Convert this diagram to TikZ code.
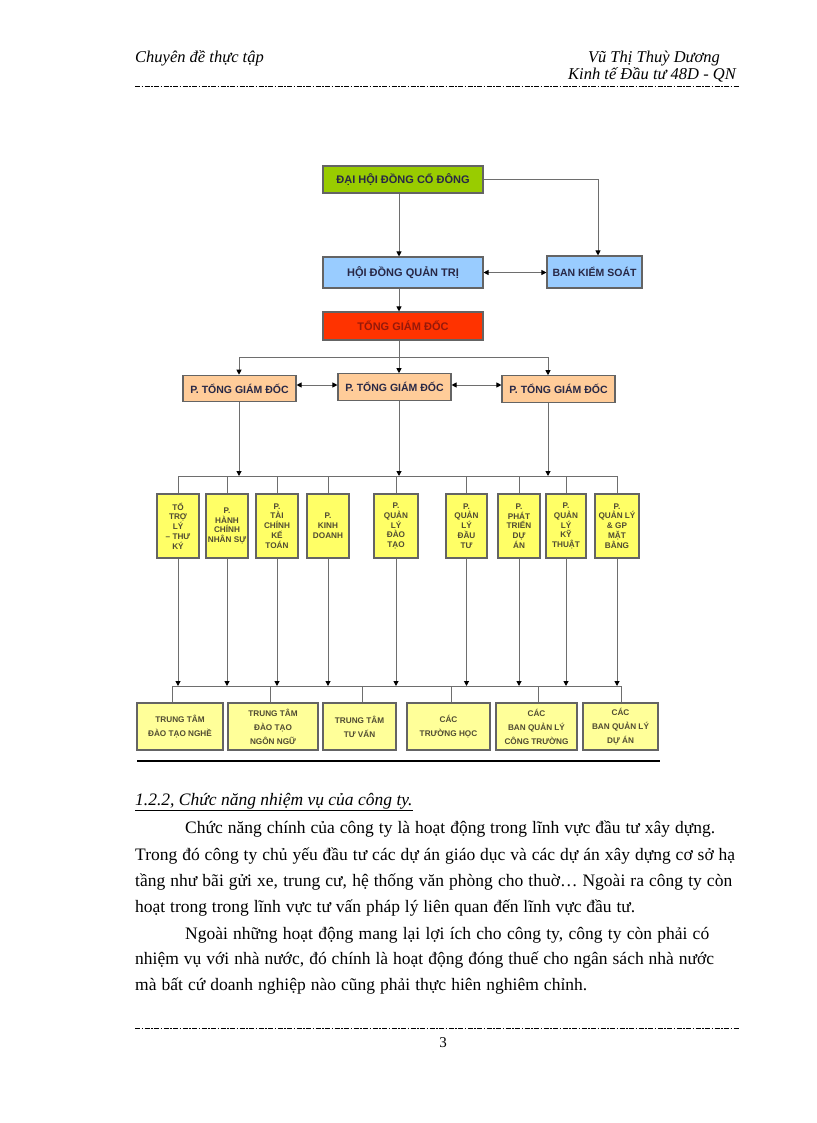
\documentclass[tikz,border=0pt]{standalone}
\usepackage{fontspec}
\setmainfont{Liberation Serif}
\newfontfamily\chartfont{Liberation Sans}
\usetikzlibrary{arrows.meta}
\definecolor{grn}{RGB}{153,204,0}
\definecolor{lblue}{RGB}{153,204,255}
\definecolor{tred}{RGB}{255,51,0}
\definecolor{peach}{RGB}{255,204,153}
\definecolor{yel}{RGB}{255,255,102}
\definecolor{paleyel}{RGB}{255,255,153}
\definecolor{boxgray}{RGB}{100,100,100}
\definecolor{linegray}{RGB}{110,110,110}
\definecolor{navytxt}{RGB}{40,40,70}
\definecolor{redtxt}{RGB}{150,25,10}
\definecolor{smalltxt}{RGB}{80,75,50}
\begin{document}
\begin{tikzpicture}[x=1pt,y=-1pt,
  box/.style={draw=boxgray, line width=1.1pt, inner sep=1pt, align=center, text=navytxt,
    font=\chartfont\bfseries\fontsize{11}{13}\selectfont},
  topbox/.style={box, minimum width=160, minimum height=28},
  pbox/.style={box, fill=peach, minimum width=113, minimum height=26.5, inner sep=0pt,
    font=\chartfont\bfseries\fontsize{10.5}{12}\selectfont},
  smallbox/.style={box, fill=yel, minimum height=64, inner sep=0pt, text=smalltxt,
    font=\chartfont\bfseries\fontsize{8.2}{9.8}\selectfont},
  botbox/.style={box, fill=paleyel, minimum height=47, text=smalltxt,
    font=\chartfont\bfseries\fontsize{8.2}{14}\selectfont},
  conn/.style={draw=linegray, line width=1pt},
  arr/.style={conn, -{Triangle[length=5pt,width=5pt,color=black]}},
  darr/.style={conn, {Triangle[length=5pt,width=5pt,color=black]}-{Triangle[length=5pt,width=5pt,color=black]}},
  dashdot/.style={line width=0.8pt, dash pattern=on 5pt off 1.5pt on 1.5pt off 1.5pt},
  txt/.style={anchor=base west, inner sep=0pt, font=\fontsize{17.5}{19}\selectfont}
]
\useasboundingbox[fill=white] (0,0) rectangle (816,1123);

% header
\node[txt, font=\itshape\fontsize{16.5}{18}\selectfont] (h1) at (135,63) {Chuyên đề thực tập};
\node[anchor=base, inner sep=0pt, font=\itshape\fontsize{16.5}{18}\selectfont] (h2) at (654,63) {Vũ Thị Thuỳ Dương};
\node[anchor=base, inner sep=0pt, font=\itshape\fontsize{16.5}{18}\selectfont] (h3) at (652,80) {Kinh tế Đầu tư 48D - QN};
\coordinate (hl1) at (135,86); \coordinate (hl2) at (740,86);
\draw[dashdot] (hl1) -- (hl2);

% top levels
\node[topbox, fill=grn, minimum height=27] (dh) at (403,179.5) {ĐẠI HỘI ĐỒNG CỔ ĐÔNG};
\node[topbox, fill=lblue, minimum height=31] (hd) at (403,272.5) {HỘI ĐỒNG QUẢN TRỊ};
\node[box, fill=lblue, minimum width=95, minimum height=32, inner sep=0pt,
  font=\chartfont\bfseries\fontsize{10.5}{12}\selectfont] (bks) at (594.5,272) {BAN KIỂM SOÁT};
\node[topbox, fill=tred, text=redtxt] (tgd) at (403,326) {TỔNG GIÁM ĐỐC};
\node[pbox] (p1) at (239.5,388.5) {P. TỔNG GIÁM ĐỐC};
\node[pbox] (p2) at (394.5,387) {P. TỔNG GIÁM ĐỐC};
\node[pbox] (p3) at (558.5,389) {P. TỔNG GIÁM ĐỐC};

\coordinate (cx) at (399,0);
\coordinate (rx) at (598,0);
\coordinate (lx) at (239,0);
\coordinate (r3) at (548,0);
\coordinate (bus1) at (399,357);

\draw[arr] (dh.south -| cx) -- (hd.north -| cx);
\draw[arr] (dh.east) -| (bks.north -| rx);
\draw[darr] (hd.east) -- (hd.east -| bks.west);
\draw[arr] (hd.south -| cx) -- (tgd.north -| cx);
\draw[conn] (tgd.south -| cx) -- (bus1);
\draw[arr] (bus1) -- (p2.north -| cx);
\draw[arr] (bus1) -| (p1.north -| lx);
\draw[arr] (bus1) -| (p3.north -| r3);
\draw[darr] (p1.east |- 0,385) -- (p2.west |- 0,385);
\draw[darr] (p2.east |- 0,385) -- (p3.west |- 0,385);

% departments
\node[smallbox, minimum width=42] (s1) at (178,526) {TỔ\\TRỢ\\LÝ\\– THƯ\\KÝ};
\node[smallbox, minimum width=42] (s2) at (227,526) {P.\\HÀNH\\CHÍNH\\NHÂN SỰ};
\node[smallbox, minimum width=42] (s3) at (277,526) {P.\\TÀI\\CHÍNH\\KẾ\\TOÁN};
\node[smallbox, minimum width=42] (s4) at (328,526) {P.\\KINH\\DOANH};
\node[smallbox, minimum width=44] (s5) at (396,526) {P.\\QUẢN\\LÝ\\ĐÀO\\TẠO};
\node[smallbox, minimum width=41] (s6) at (466.5,526) {P.\\QUẢN\\LÝ\\ĐẦU\\TƯ};
\node[smallbox, minimum width=42] (s7) at (519,526) {P.\\PHÁT\\TRIỂN\\DỰ\\ÁN};
\node[smallbox, minimum width=40] (s8) at (566,526) {P.\\QUẢN\\LÝ\\KỸ\\THUẬT};
\node[smallbox, minimum width=44] (s9) at (617,526) {P.\\QUẢN LÝ\\\& GP\\MẶT\\BẰNG};

\coordinate (bus2) at (0,476);
\draw[arr] (p1.south -| lx) -- (lx |- bus2);
\draw[arr] (p2.south -| cx) -- (cx |- bus2);
\draw[arr] (p3.south -| r3) -- (r3 |- bus2);
\draw[conn] (s1.north |- bus2) -- (s9.north |- bus2);
\foreach \i in {1,...,9} {\draw[conn] (s\i.north |- bus2) -- (s\i.north);}

% bottom units
\node[botbox, minimum width=86] (b1) at (180,726.5) {TRUNG TÂM\\ĐÀO TẠO NGHỀ};
\node[botbox, minimum width=90] (b2) at (273,726.5) {TRUNG TÂM\\ĐÀO TẠO\\NGÔN NGỮ};
\node[botbox, minimum width=73] (b3) at (359.5,726.5) {TRUNG TÂM\\TƯ VẤN};
\node[botbox, minimum width=83] (b4) at (448.5,726.5) {CÁC\\TRƯỜNG HỌC};
\node[botbox, minimum width=81] (b5) at (536.5,726.5) {CÁC\\BAN QUẢN LÝ\\CÔNG TRƯỜNG};
\node[botbox, minimum width=75] (b6) at (620.5,726.5) {CÁC\\BAN QUẢN LÝ\\DỰ ÁN};

\coordinate (bus3) at (0,686);
\coordinate (d1) at (172,686);
\coordinate (d2) at (270,686);
\coordinate (d3) at (362,686);
\coordinate (d4) at (451,686);
\coordinate (d5) at (538,686);
\coordinate (d6) at (621,686);
\foreach \i in {1,...,9} {\draw[arr] (s\i.south) -- (s\i.south |- bus3);}
\draw[conn] (d1) -- (d6);
\foreach \i in {1,...,6} {\draw[conn] (d\i) -- (d\i |- b\i.north);}

\coordinate (rl1) at (137,761); \coordinate (rl2) at (660,761);
\draw[line width=1.2pt] (rl1) -- (rl2);

% text
\node[txt, font=\itshape\fontsize{17.5}{19}\selectfont] (sec) at (135,805) {\underline{1.2.2, Chức năng nhiệm vụ của công ty.}};
\node[txt] (l1) at (185,833) {\makebox[530pt][s]{Chức năng chính của công ty là hoạt động trong lĩnh vực đầu tư xây dựng.}};
\node[txt] (l2) at (135,860) {\makebox[600pt][s]{Trong đó công ty chủ yếu đầu tư các dự án giáo dục và các dự án xây dựng cơ sở hạ}};
\node[txt] (l3) at (135,886) {\makebox[597pt][s]{tầng như bãi gửi xe, trung cư, hệ thống văn phòng cho thuờ… Ngoài ra công ty còn}};
\node[txt] (l4) at (135,912) {\makebox[500pt][s]{hoạt trong trong lĩnh vực tư vấn pháp lý liên quan đến lĩnh vực đầu tư.}};
\node[txt] (l5) at (185,939) {\makebox[524pt][s]{Ngoài những hoạt động mang lại lợi ích cho công ty, công ty còn phải có}};
\node[txt] (l6) at (135,964) {\makebox[579pt][s]{nhiệm vụ với nhà nước, đó chính là hoạt động đóng thuế cho ngân sách nhà nước}};
\node[txt] (l7) at (135,990) {\makebox[452pt][s]{mà bất cứ doanh nghiệp nào cũng phải thực hiên nghiêm chỉnh.}};

% footer
\coordinate (fl1) at (135,1028); \coordinate (fl2) at (740,1028);
\draw[dashdot] (fl1) -- (fl2);
\node[anchor=base, inner sep=0pt, font=\fontsize{15}{16}\selectfont] (pg) at (443,1047) {3};
\end{tikzpicture}
\end{document}
